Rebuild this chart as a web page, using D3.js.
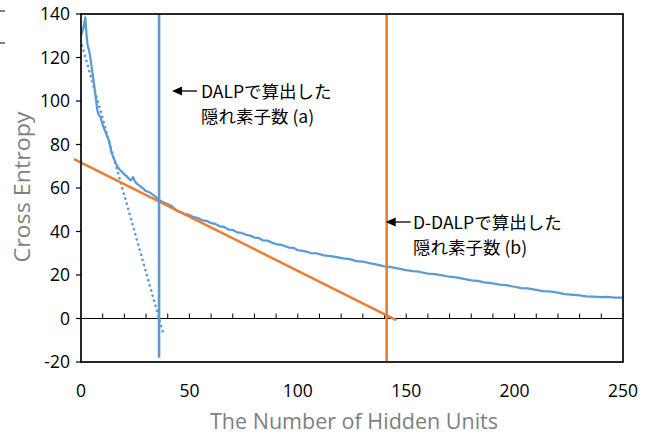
<!DOCTYPE html>
<html><head><meta charset="utf-8">
<script src="https://cdn.jsdelivr.net/npm/d3@7"></script>
<style>body{margin:0;background:#fff}svg{display:block}</style>
</head><body>
<svg id="c" width="651" height="435"></svg>
<script>
// ---- data ----
const hiddenUnits = [0,1,2,2.5,3,4,5,6,7,7.5,8,9,10,11,12,13,14,15,16,17,18,19,20,21,22,23,24,25,26,28,30,32,34,36,38,40,42,44,46,48,50,52,54,56,58,60,62,64,66,68,70,72,74,76,78,80,82,84,86,88,90,93,96,98,100,103,106,109,112,115,118,121,124,127,130,133,136,140,143,146,150,153,156,160,163,166,170,173,176,180,183,186,190,193,196,200,203,206,210,213,216,220,223,226,230,233,236,240,243,246,250];
const crossEntropy = [130,133,138.5,131,126,122,115,108,100,96,94,92.5,89,86.5,84,81.5,76.5,74,71.5,69.5,68.3,67.3,66.2,65.5,64.3,63.5,65,62.8,61.8,60.3,58.6,57.8,56.3,54.3,53.4,52.5,51.6,49.6,48.9,48.0,47.6,46.6,46.2,45.1,44.9,43.8,43.5,42.4,42.1,40.9,40.7,39.6,39.4,38.5,38.1,37.2,37.0,35.9,35.8,34.9,34.2,33.7,32.6,32.5,31.4,31.0,30.1,29.9,29.0,28.7,28.2,27.6,27.3,26.4,26.2,25.5,24.9,24.0,23.6,23.0,22.2,21.8,21.5,20.6,20.4,19.9,19.2,18.9,18.3,17.5,17.3,16.6,16.1,15.6,15.3,14.6,14.0,13.9,13.2,12.6,12.5,11.9,11.2,11.0,10.6,10.2,10.1,9.8,9.9,9.6,9.6];
const dalpTrendX = [0.5, 38];
const dalpTrendY = [125.5, -7];
const ddalpTrendX = [-3.2, 145.4];
const ddalpTrendY = [73.3, -0.7];
const dalpUnits = 36;
const ddalpUnits = 141;
const verticalRangeA = [-18, 140];
const verticalRangeB = [-19.5, 140];
const xTicks = [0,50,100,150,200,250];
const yTicks = [-20,0,20,40,60,80,100,120,140];
const xMinorTicks = d3.range(10, 251, 10);
const xTitle = "The Number of Hidden Units";
const yTitle = "Cross Entropy";
const noteA = ["DALPで算出した", "隠れ素子数 (a)"];
const noteB = ["D-DALPで算出した", "隠れ素子数 (b)"];

// ---- drawing ----
const svg = d3.select("#c");
const x = d3.scaleLinear().domain([0,250]).range([81,623]);
const y = d3.scaleLinear().domain([-20,140]).range([362,14]);
const blue = "#5B9BD5", orange = "#ED7D31";
const line = d3.line().x(d=>x(d[0])).y(d=>y(d[1]));

// small marks at top-left edge
svg.append("path").attr("d","M0,11H5M0,43H5").attr("stroke","#000").attr("stroke-width",1.2);

// zero line with minor ticks
svg.append("line").attr("x1",x(0)).attr("x2",x(250)).attr("y1",y(0)).attr("y2",y(0))
  .attr("stroke","#000").attr("stroke-width",1.2);
svg.append("g").selectAll("line").data(xMinorTicks).join("line")
  .attr("x1",d=>x(d)).attr("x2",d=>x(d)).attr("y1",y(0)).attr("y2",y(0)-5)
  .attr("stroke","#000").attr("stroke-width",1);

// curve
svg.append("path").datum(hiddenUnits.map((h,i)=>[h,crossEntropy[i]]))
  .attr("d",line).attr("fill","none").attr("stroke",blue).attr("stroke-width",2.25)
  .attr("stroke-linejoin","round");

// dotted DALP trend
svg.append("path").datum(dalpTrendX.map((h,i)=>[h,dalpTrendY[i]]))
  .attr("d",line).attr("fill","none").attr("stroke",blue).attr("stroke-width",2.6)
  .attr("stroke-linecap","round").attr("stroke-dasharray","0.1 5.2");

// orange trend
svg.append("path").datum(ddalpTrendX.map((h,i)=>[h,ddalpTrendY[i]]))
  .attr("d",line).attr("fill","none").attr("stroke",orange).attr("stroke-width",2.5);

// verticals
svg.append("line").attr("x1",x(dalpUnits)).attr("x2",x(dalpUnits))
  .attr("y1",y(verticalRangeA[0])).attr("y2",y(verticalRangeA[1]))
  .attr("stroke",blue).attr("stroke-width",2.6);
svg.append("line").attr("x1",x(ddalpUnits)).attr("x2",x(ddalpUnits))
  .attr("y1",y(verticalRangeB[0])).attr("y2",y(verticalRangeB[1]))
  .attr("stroke",orange).attr("stroke-width",2.6);

// frame
svg.append("rect").attr("x",x(0)).attr("y",y(140)).attr("width",x(250)-x(0)).attr("height",y(-20)-y(140))
  .attr("fill","none").attr("stroke","#111").attr("stroke-width",1.8);

// y ticks (outside)
svg.append("g").selectAll("line").data(yTicks).join("line")
  .attr("x1",x(0)-5).attr("x2",x(0)).attr("y1",d=>y(d)).attr("y2",d=>y(d))
  .attr("stroke","#000").attr("stroke-width",1.2);

const tickFont = "'Open Sans', sans-serif";
svg.append("g").selectAll("text").data(yTicks).join("text")
  .attr("x",70).attr("y",d=>y(d)).attr("dy","0.36em").attr("text-anchor","end")
  .attr("font-family",tickFont).attr("font-size",17.5).attr("fill","#000").text(d=>d);
svg.append("g").selectAll("text").data(xTicks).join("text")
  .attr("x",d=>x(d)).attr("y",397).attr("text-anchor","middle")
  .attr("font-family",tickFont).attr("font-size",17.5).attr("fill","#000").text(d=>d);

// axis titles
svg.append("text").attr("x",354).attr("y",429).attr("text-anchor","middle")
  .attr("font-family",tickFont).attr("font-size",21).attr("fill","#7F7F7F")
  .attr("textLength",288).attr("lengthAdjust","spacingAndGlyphs").text(xTitle);
svg.append("text").attr("transform","translate(30,187) rotate(-90)").attr("text-anchor","middle")
  .attr("font-family",tickFont).attr("font-size",21).attr("fill","#7F7F7F")
  .attr("textLength",151).attr("lengthAdjust","spacingAndGlyphs").text(yTitle);

// annotations
const noteFont = "'Noto Sans CJK JP', sans-serif";
function note(tipX, ay, tx, lines, baseline){
  svg.append("line").attr("x1",tipX+6).attr("x2",tipX+25).attr("y1",ay).attr("y2",ay)
    .attr("stroke","#000").attr("stroke-width",1.3);
  svg.append("path").attr("d",`M${tipX},${ay}L${tipX+10},${ay-4.5}L${tipX+10},${ay+4.5}Z`).attr("fill","#000");
  const t = svg.append("text").attr("font-family",noteFont).attr("font-size",17.5).attr("fill","#000");
  lines.forEach((s,i)=>t.append("tspan").attr("x",tx).attr("y",baseline+i*25).text(s));
}
note(x(dalpUnits)+13, 91, 201, noteA, 98);
note(x(ddalpUnits)-1, 222, 413, noteB, 229);
</script>
</body></html>
